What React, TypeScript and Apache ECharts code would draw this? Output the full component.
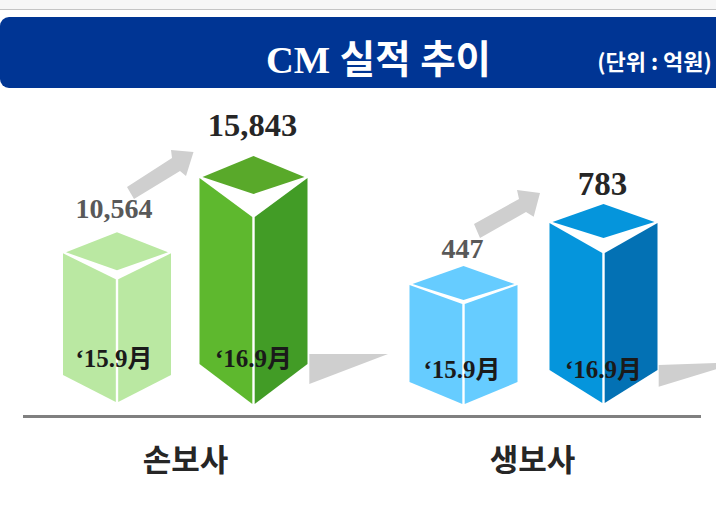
import React, { useEffect, useRef } from "react";
import * as echarts from "echarts";

const titleText = "CM 실적 추이";
const unitText = "(단위 : 억원)";
const periods = ["‘15.9月", "‘16.9月"];
const groupNames = ["손보사", "생보사"];
const nonLifeValues = [10564, 15843];
const lifeValues = [447, 783];

const SERIF = "'Liberation Serif', 'Noto Sans CJK KR', serif";
const SANS = "'Noto Sans CJK KR', sans-serif";
const GRAY = "#cfcfcf";

const GRID_TOP = 90;
const GRID_BOTTOM_Y = 403.5;

// Look of each prism: colours and the depth of its top face, front corner and foot.
const nonLifeLook = [
  { left: "#bae8a2", right: "#bae8a2", top: "#bae8a2", half: 54, corner: 20, diamond: 38, front: 47, foot: 27, nudge: -1.5, labelDx: -3, labelGap: 24, labelSize: 28, labelColor: "#595959", periodDx: -3, periodY: 358 - 402 },
  { left: "#5eb82e", right: "#429c26", top: "#59a92a", half: 54, corner: 21, diamond: 38, front: 61, foot: 40, nudge: 0.5, labelDx: -1, labelGap: 31, labelSize: 32.5, labelColor: "#262626", periodDx: 0, periodY: 358 - 404 },
];
const lifeLook = [
  { left: "#66ccff", right: "#66ccff", top: "#66ccff", half: 54, corner: 18, diamond: 34, front: 38, foot: 22, nudge: 0.5, labelDx: -1, labelGap: 18, labelSize: 28, labelColor: "#595959", periodDx: -1.5, periodY: 369 - 404 },
  { left: "#0595dc", right: "#0371b4", top: "#0595dc", half: 54, corner: 18, diamond: 34, front: 49, foot: 33, nudge: -0.5, labelDx: -1, labelGap: 20, labelSize: 33, labelColor: "#262626", periodDx: 0, periodY: 369 - 403 },
];

function prismRenderer(looks: any[]) {
  return (params: any, api: any) => {
    const i = params.dataIndex;
    const look = looks[i];
    const [cx, ty] = api.coord([api.value(0), api.value(1)]);
    const by = (api.coord([api.value(0), api.value(2)])[1] as number) + look.nudge;
    const h = look.half;
    const poly = (points: number[][], fill: string) => ({
      type: "polygon",
      shape: { points },
      style: { fill },
    });
    return {
      type: "group",
      children: [
        poly(
          [
            [cx, ty],
            [cx + h - 3, ty + look.corner],
            [cx, ty + look.diamond],
            [cx - h + 3, ty + look.corner],
          ],
          look.top,
        ),
        poly(
          [
            [cx - h, ty + look.corner + 1],
            [cx - 1.2, ty + look.front],
            [cx - 1.2, by],
            [cx - h, by - look.foot],
          ],
          look.left,
        ),
        poly(
          [
            [cx + h, ty + look.corner + 1],
            [cx + 1.2, ty + look.front],
            [cx + 1.2, by],
            [cx + h, by - look.foot],
          ],
          look.right,
        ),
        {
          type: "text",
          style: {
            text: api.value(1).toLocaleString("en-US"),
            x: cx + look.labelDx,
            y: ty - look.labelGap,
            fill: look.labelColor,
            font: `bold ${look.labelSize}px ${SERIF}`,
            textAlign: "center",
            textVerticalAlign: "middle",
          },
        },
        {
          type: "text",
          style: {
            text: periods[i],
            x: cx + look.periodDx,
            y: by + look.periodY,
            fill: "#1a1a1a",
            font: `bold 25px ${SERIF}`,
            textAlign: "center",
            textVerticalAlign: "middle",
          },
        },
      ],
    };
  };
}

const AXIS_MIN_NON_LIFE = -1280;
const AXIS_MAX_NON_LIFE = 20410;
const AXIS_MIN_LIFE = -298;
const AXIS_MAX_LIFE = 1401;

function gfxText(text: string, x: number, y: number, size: number, family: string, fill: string) {
  return {
    type: "text",
    x,
    y,
    silent: true,
    style: {
      text,
      fill,
      font: `bold ${size}px ${family}`,
      textAlign: "center",
      textVerticalAlign: "middle",
    },
  };
}

function gfxPoly(points: number[][], fill: string) {
  return { type: "polygon", silent: true, shape: { points }, style: { fill } };
}

export default function App() {
  const ref = useRef<HTMLDivElement>(null);
  useEffect(() => {
    if (!ref.current) return;
    const chart = echarts.init(ref.current, undefined, { renderer: "svg" });
    chart.setOption({
      animation: false,
      backgroundColor: "#ffffff",
      grid: [
        { left: 48.75, width: 273, top: GRID_TOP, height: GRID_BOTTOM_Y - GRID_TOP },
        { left: 393.5, width: 280, top: GRID_TOP, height: GRID_BOTTOM_Y - GRID_TOP },
      ],
      xAxis: [
        { type: "category", gridIndex: 0, data: periods, show: false },
        { type: "category", gridIndex: 1, data: periods, show: false },
      ],
      yAxis: [
        { type: "value", gridIndex: 0, min: AXIS_MIN_NON_LIFE, max: AXIS_MAX_NON_LIFE, show: false },
        { type: "value", gridIndex: 1, min: AXIS_MIN_LIFE, max: AXIS_MAX_LIFE, show: false },
      ],
      graphic: [
        { type: "rect", silent: true, shape: { x: 0, y: 0, width: 716, height: 9 }, style: { fill: "#f6f6f6" } },
        { type: "rect", silent: true, shape: { x: 0, y: 9, width: 716, height: 1 }, style: { fill: "#c4c4c4" } },
        { type: "rect", silent: true, shape: { x: 0, y: 17, width: 730, height: 71, r: 9 }, style: { fill: "#003594" } },
        gfxText(titleText, 378.5, 60, 38.5, SERIF, "#ffffff"),
        gfxText(unitText, 654.5, 60, 22, SANS, "#ffffff"),
        gfxPoly([[127, 187], [172, 158], [171, 150], [193.5, 152], [186, 176], [180, 171], [134, 199]], GRAY),
        gfxPoly([[474, 224], [519, 199], [517, 190], [540, 193], [533.7, 216.7], [526, 212], [480, 238]], GRAY),
        gfxPoly([[309.3, 354], [388, 354], [309.3, 384]], GRAY),
        gfxPoly([[658.7, 365], [740, 362], [658.7, 386.7]], GRAY),
        { type: "rect", silent: true, shape: { x: 23, y: 415, width: 678, height: 3 }, style: { fill: "#808080" } },
        gfxText(groupNames[0], 185.5, 457.5, 31, SANS, "#262626"),
        gfxText(groupNames[1], 532.5, 457.5, 31, SANS, "#262626"),
      ],
      series: [
        {
          type: "custom",
          xAxisIndex: 0,
          yAxisIndex: 0,
          silent: true,
          clip: false,
          encode: { x: 0, y: 1 },
          data: nonLifeValues.map((v, i) => [i, v, AXIS_MIN_NON_LIFE]),
          renderItem: prismRenderer(nonLifeLook),
        },
        {
          type: "custom",
          xAxisIndex: 1,
          yAxisIndex: 1,
          silent: true,
          clip: false,
          encode: { x: 0, y: 1 },
          data: lifeValues.map((v, i) => [i, v, AXIS_MIN_LIFE]),
          renderItem: prismRenderer(lifeLook),
        },
      ],
    });
    return () => chart.dispose();
  }, []);
  return <div ref={ref} style={{ position: "absolute", left: 0, top: 0, width: 716, height: 509 }} />;
}
